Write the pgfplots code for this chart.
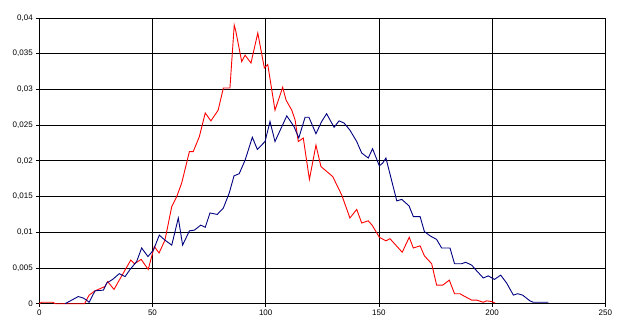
\documentclass[border=0pt]{standalone}
\usepackage{fontspec}
\setmainfont{Liberation Sans}
\usepackage{pgfplots}
\pgfplotsset{compat=1.18}
\definecolor{navyline}{RGB}{0,0,128}
\definecolor{redline}{RGB}{255,0,0}
\begin{document}
\begin{tikzpicture}
\begin{axis}[
    at={(0,0)}, anchor=south west,
    scale only axis,
    width=566pt, height=285.7pt,
    xmin=0, xmax=250, ymin=0, ymax=0.04,
    xtick={0,50,...,250},
    ytick={0,0.005,...,0.0401},
    grid=major,
    major grid style={black, line width=0.8pt},
    axis line style={black, line width=0.8pt},
    axis x line*=bottom, axis y line*=left,
    tick align=outside, major tick length=3pt,
    tick style={black, line width=0.8pt},
    scaled y ticks=false,
    /pgf/number format/assume math mode=true,
    /pgf/number format/use comma,
    yticklabel style={/pgf/number format/fixed, /pgf/number format/precision=3},
    ticklabel style={font=\fontsize{8}{9}\selectfont},
    clip=false,
]
% red series
\addplot[redline, line width=0.9pt] coordinates {
(0,0) (1,0.0002) (3,0.0002) (6,0.0002) (7,0) (20,0) (22,0.0012) (24.6,0.0018)
(27.5,0.0022) (29,0.0024) (30.2,0.0031) (33,0.002) (36.4,0.0039) (40.4,0.0061)
(42,0.0056) (45,0.0062) (48.1,0.0048) (50.8,0.008) (52.9,0.0071) (55.5,0.0089)
(58.5,0.0136) (60.7,0.015) (62.9,0.0169) (66.3,0.0213) (68,0.0213) (70.7,0.0234)
(73.3,0.0267) (75.8,0.0256) (79,0.0271) (81.3,0.0302) (84.2,0.0302) (86.1,0.039)
(86.7,0.0383) (89.4,0.0339) (90.9,0.0348) (93.5,0.0337) (96.5,0.0379) (99.4,0.033)
(100.9,0.0335) (104.1,0.0271) (107.5,0.0303) (109,0.0285) (111.5,0.0271) (113,0.0257)
(114.4,0.0227) (116.6,0.0232) (119.3,0.0174) (122.2,0.0222) (124.4,0.0192)
(129.6,0.0178) (133.6,0.0152) (137.2,0.012) (140.2,0.0132) (142.4,0.0113)
(145.3,0.0116) (147,0.011) (150.2,0.0093) (153.1,0.0088) (154.9,0.0091)
(160.3,0.0072) (163.4,0.0093) (165.2,0.0078) (168.2,0.0081) (170.1,0.0067)
(173.3,0.0056) (175.5,0.0026) (178.2,0.0026) (181.1,0.0033) (183.4,0.0014)
(185.8,0.0014) (188,0.001) (191,0.0005) (193.2,0.0005) (196.1,0.0002)
(197.6,0.0004) (199.8,0.0003) (201.3,0.0001)
};
% navy series
\addplot[navyline, line width=0.9pt] coordinates {
(11.4,0) (14.3,0.0005) (17.2,0.001) (19.4,0.0008) (20.9,0.0005) (22,0.0002)
(24.6,0.0018) (28.3,0.0019) (29.8,0.0029) (32.4,0.0034) (35.3,0.0042) (37.9,0.0038)
(40.1,0.0048) (43,0.0059) (45.2,0.0078) (48,0.0066) (50.4,0.0075) (53,0.0096)
(55.5,0.0089) (58.5,0.0082) (61.4,0.012) (63.3,0.0082) (66.3,0.0102) (68.5,0.0103)
(71.3,0.011) (73.3,0.0107) (75.4,0.0127) (78.6,0.0125) (81.3,0.0134) (83.9,0.0155)
(86,0.0179) (88.3,0.0182) (90.9,0.0201) (94.1,0.0233) (96.3,0.0216) (99.7,0.0227)
(101.9,0.0255) (104.1,0.0227) (109.3,0.0263) (112.5,0.0248) (114.6,0.0232)
(117.4,0.0261) (119.1,0.0261) (122.2,0.0238) (124.7,0.0255) (126.9,0.0266)
(130.2,0.0247) (132.4,0.0256) (134.6,0.0253) (137.2,0.0243) (140.2,0.0227)
(142.4,0.0211) (145.3,0.0204) (147.2,0.0217) (150.2,0.0193) (151.7,0.0197)
(153.1,0.0204) (157.9,0.0144) (160.1,0.0146) (163.3,0.0137) (165.2,0.0122)
(168.2,0.0122) (170.1,0.0101) (172.6,0.0095) (175.5,0.009) (177.7,0.0078)
(181.4,0.0078) (183.4,0.0056) (186.6,0.0056) (188.3,0.0058) (191,0.0054)
(192.9,0.0047) (196.1,0.0036) (198.3,0.0039) (201,0.0034) (203.8,0.004)
(206.4,0.0029) (209.4,0.0012) (211.3,0.0014) (213.5,0.0012) (216.7,0.0004)
(218.2,0.0002) (224.8,0.0002)
};
\end{axis}
\path[use as bounding box] (-39.3pt,-26.3pt) rectangle (583.7pt,303.7pt);
\end{tikzpicture}
\end{document}
